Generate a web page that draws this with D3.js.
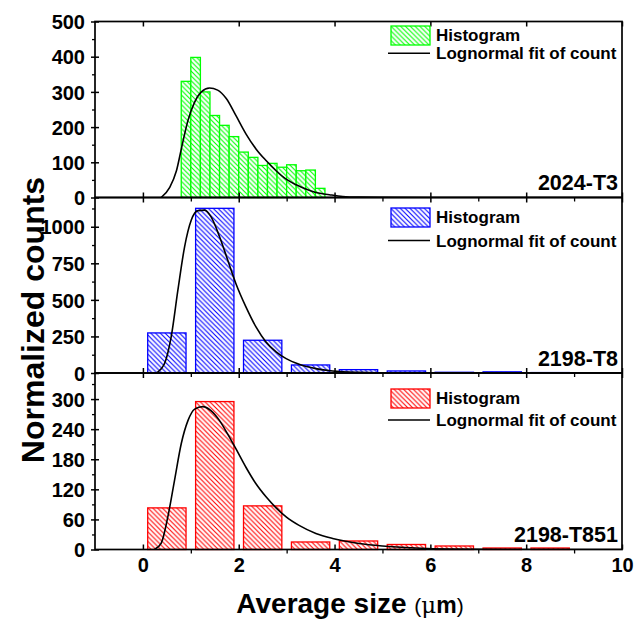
<!DOCTYPE html>
<html><head><meta charset="utf-8">
<script src="https://cdn.jsdelivr.net/npm/d3@7"></script>
<style>
body{margin:0;background:#fff}
svg{display:block}
text{font-family:"Liberation Sans",Arial,sans-serif;font-weight:bold;fill:#000}
</style>
</head><body><svg id="c" width="644" height="619"></svg>
<script>
// ---------------- data ----------------
const panelNames = ["2024-T3", "2198-T8", "2198-T851"];
const panelColors = ["#00ff00", "#0000ff", "#ff0000"];

// 2024-T3 : narrow bins (0.2 um)
const t3BinStart = [0.8, 1.0, 1.2, 1.4, 1.6, 1.8, 2.0, 2.2, 2.4, 2.6, 2.8, 3.0, 3.2, 3.4, 3.6];
const t3Counts   = [330, 398, 300, 233, 205, 173, 129, 114, 91, 97, 86, 93, 76, 78, 26];
const t3FitX = [0.38, 0.56, 0.70, 0.81, 0.94, 1.08, 1.22, 1.39, 1.56, 1.74, 1.94, 2.15, 2.36, 2.57, 2.78, 2.99, 3.20, 3.40, 3.61, 3.89, 4.17, 4.50, 5.0, 6.0, 8.0, 10.0];
const t3FitY = [0, 29, 76, 143, 219, 271, 300, 311, 305, 281, 233, 181, 138, 105, 76, 52, 36, 24, 14, 8, 3, 1, 0.4, 0, 0, 0];

// 2198-T8 : 1 um bins
const t8Centers = [0.5, 1.5, 2.5, 3.5, 4.5, 5.5, 6.5, 7.5, 8.5];
const t8Counts  = [274, 1126, 224, 55, 23, 14, 5, 8, 3];
const t8FitX = [0.28, 0.45, 0.59, 0.73, 0.87, 1.01, 1.15, 1.29, 1.42, 1.60, 1.77, 1.94, 2.15, 2.36, 2.57, 2.78, 2.99, 3.26, 3.61, 3.96, 4.51, 5.35, 7.0, 10.0];
const t8FitY = [0, 64, 247, 566, 863, 1046, 1110, 1114, 1069, 932, 772, 612, 452, 315, 212, 144, 98, 60, 30, 14, 5, 1, 0, 0];

// 2198-T851 : 1 um bins
const t851Centers = [0.5, 1.5, 2.5, 3.5, 4.5, 5.5, 6.5, 7.5, 8.5];
const t851Counts  = [83, 295, 87, 15, 17, 10, 7, 3, 3];
const t851FitX = [0.24, 0.38, 0.52, 0.66, 0.80, 0.94, 1.08, 1.25, 1.42, 1.60, 1.77, 1.94, 2.15, 2.36, 2.57, 2.78, 2.99, 3.26, 3.61, 3.96, 4.51, 5.0, 5.7, 6.4, 8.0, 10.0];
const t851FitY = [0, 12, 65, 138, 211, 257, 280, 285, 277, 257, 230, 201, 164, 131, 105, 83, 65, 48, 32, 22, 12, 7, 3, 1, 0, 0];

const yDomains = [[0, 500], [0, 1200], [0, 352]];
const yMajorTicks = [[0, 100, 200, 300, 400, 500], [0, 250, 500, 750, 1000], [0, 60, 120, 180, 240, 300]];
const yMinorTicks = [[50, 150, 250, 350, 450], [125, 375, 625, 875, 1125], [30, 90, 150, 210, 270, 330]];
const xMajorTicks = [0, 2, 4, 6, 8, 10];
const xMinorTicks = [1, 3, 5, 7, 9];

// ---------------- layout ----------------
const svg = d3.select("#c");
const left = 95, right = 622;
const panelTop = [21.5, 197.5, 373];
const panelBot = [197.5, 373, 549.5];
const legendSwatchY = [26, 208, 389];
const legendLineY = [53.3, 240.5, 420];

const x = d3.scaleLinear().domain([-1, 10]).range([left, right]);

const defs = svg.append("defs");
panelColors.forEach((c, i) => {
  const p = defs.append("pattern").attr("id", "hatch" + i)
    .attr("patternUnits", "userSpaceOnUse").attr("width", 4.8).attr("height", 4.8);
  p.append("rect").attr("width", 4.8).attr("height", 4.8).attr("fill", "#fff");
  p.append("path").attr("d", "M-1,-1 L5.8,5.8 M-1,3.8 L1,5.8 M3.8,-1 L5.8,1")
    .attr("stroke", c).attr("stroke-width", 1.1);
});

const bars = [
  t3BinStart.map((s, i) => ({x0: s, x1: s + 0.2, v: t3Counts[i]})),
  t8Centers.map((c, i) => ({x0: c - 0.4, x1: c + 0.4, v: t8Counts[i]})),
  t851Centers.map((c, i) => ({x0: c - 0.4, x1: c + 0.4, v: t851Counts[i]}))
];
const fits = [
  t3FitX.map((v, i) => [v, t3FitY[i]]),
  t8FitX.map((v, i) => [v, t8FitY[i]]),
  t851FitX.map((v, i) => [v, t851FitY[i]])
];

for (let p = 0; p < 3; p++) {
  const y = d3.scaleLinear().domain(yDomains[p]).range([panelBot[p], panelTop[p]]);
  const g = svg.append("g");

  defs.append("clipPath").attr("id", "clip" + p).append("rect")
    .attr("x", left).attr("y", panelTop[p]).attr("width", right - left).attr("height", panelBot[p] - panelTop[p]);

  // bars
  g.append("g").selectAll("rect").data(bars[p]).join("rect")
    .attr("x", d => x(d.x0)).attr("width", d => x(d.x1) - x(d.x0))
    .attr("y", d => y(d.v)).attr("height", d => y(0) - y(d.v))
    .attr("fill", `url(#hatch${p})`).attr("stroke", panelColors[p]).attr("stroke-width", 1.3);

  // fit curve
  const line = d3.line().x(d => x(d[0])).y(d => y(d[1])).curve(d3.curveMonotoneX);
  g.append("path").datum(fits[p]).attr("d", line).attr("fill", "none")
    .attr("stroke", "#000").attr("stroke-width", 1.6).attr("clip-path", `url(#clip${p})`);

  // frame
  g.append("rect").attr("x", left).attr("y", panelTop[p]).attr("width", right - left)
    .attr("height", panelBot[p] - panelTop[p]).attr("fill", "none").attr("stroke", "#000").attr("stroke-width", 1.7);

  // y axis major
  const ya = g.append("g").attr("transform", `translate(${left},0)`)
    .call(d3.axisLeft(y).tickValues(yMajorTicks[p]).tickSize(4).tickPadding(6).tickFormat(d3.format("d")));
  ya.select(".domain").remove();
  ya.selectAll("line").attr("x1", 4).attr("x2", -4).attr("stroke-width", 1.5);
  ya.selectAll("text").style("font-size", "20px").attr("dy", "0.36em");
  // y axis minor
  const ym = g.append("g").attr("transform", `translate(${left},0)`)
    .call(d3.axisLeft(y).tickValues(yMinorTicks[p]).tickSize(3).tickFormat(""));
  ym.select(".domain").remove();
  ym.selectAll("line").attr("stroke-width", 1.3);

  // x axis (bottom of panel)
  const xa = g.append("g").attr("transform", `translate(0,${panelBot[p]})`)
    .call(d3.axisBottom(x).tickValues(xMajorTicks).tickSize(-5).tickPadding(8)
      .tickFormat(p === 2 ? d3.format("d") : ""));
  xa.select(".domain").remove();
  xa.selectAll("line").attr("stroke-width", 1.5);
  xa.selectAll("text").style("font-size", "20px");
  const xm = g.append("g").attr("transform", `translate(0,${panelBot[p]})`)
    .call(d3.axisBottom(x).tickValues(xMinorTicks).tickSize(4).tickFormat(""));
  xm.select(".domain").remove();
  xm.selectAll("line").attr("stroke-width", 1.3);
  // top ticks (inward)
  const xt = g.append("g").attr("transform", `translate(0,${panelTop[p]})`)
    .call(d3.axisTop(x).tickValues(xMajorTicks).tickSize(-5).tickFormat(""));
  xt.select(".domain").remove();
  xt.selectAll("line").attr("stroke-width", 1.5);

  // panel label
  g.append("text").attr("x", 618).attr("y", panelBot[p] - 7.5).attr("text-anchor", "end")
    .style("font-size", "21.5px").text(panelNames[p]);

  // legend
  const ly = legendSwatchY[p];
  g.append("rect").attr("x", 391).attr("y", ly).attr("width", 39).attr("height", 19)
    .attr("fill", `url(#hatch${p})`).attr("stroke", panelColors[p]).attr("stroke-width", 1.3);
  g.append("text").attr("x", 436).attr("y", ly + 15).style("font-size", "17px").text("Histogram");
  const lly = legendLineY[p];
  g.append("line").attr("x1", 388).attr("x2", 430).attr("y1", lly).attr("y2", lly)
    .attr("stroke", "#000").attr("stroke-width", 1.6);
  g.append("text").attr("x", 436).attr("y", lly + 6).style("font-size", "17px").text("Lognormal fit of count");
}

// axis titles
const xt = svg.append("text").attr("x", 350).attr("y", 613).attr("text-anchor", "middle").style("font-size", "28px");
xt.append("tspan").text("Average size ");
xt.append("tspan").style("font-size", "21px").style("font-weight", "normal").text("(");
xt.append("tspan").style("font-size", "23px").style("font-weight", "normal").style("font-family", "'DejaVu Serif',serif").text("μ");
xt.append("tspan").style("font-size", "23px").text("m");
xt.append("tspan").style("font-size", "21px").style("font-weight", "normal").text(")");

svg.append("text").attr("transform", "translate(44,320) rotate(-90)").attr("text-anchor", "middle")
  .style("font-size", "32px").text("Normalized counts");
</script></body></html>
